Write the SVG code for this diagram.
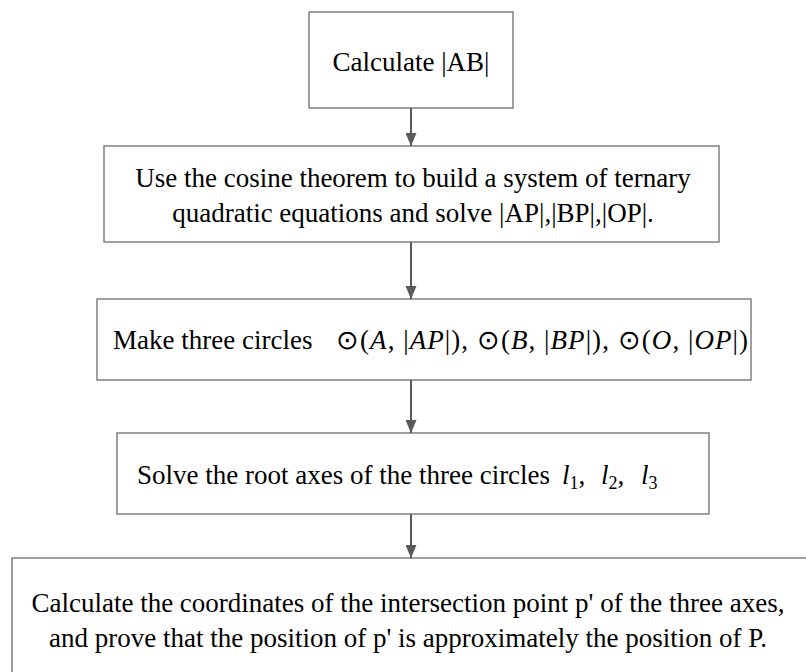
<svg xmlns="http://www.w3.org/2000/svg" width="806" height="672" viewBox="0 0 806 672">
  <style>
    .box { fill: #ffffff; stroke: #808080; stroke-width: 1.5; }
    .txt { font-family: "Liberation Serif", "Times New Roman", serif; font-size: 27px; fill: #000000; }
    .it { font-style: italic; }
    .sub { font-size: 18px; }
    .edge { stroke: #595959; stroke-width: 2; fill: none; marker-end: url(#arrow); }
  </style>
  <defs>
    <marker id="arrow" markerWidth="13" markerHeight="11" refX="13" refY="5.5" orient="auto" markerUnits="userSpaceOnUse" viewBox="0 0 13 11">
      <path d="M0,0 L13,5.5 L0,11 Z" fill="#595959"/>
    </marker>
  </defs>
  <rect width="806" height="672" fill="#ffffff"/>

  <g id="step1">
    <rect class="box" x="309" y="12" width="204" height="96"/>
    <text class="txt" x="411" y="71" text-anchor="middle">Calculate |AB|</text>
  </g>

  <g id="step2">
    <rect class="box" x="104" y="146" width="615" height="96"/>
    <text class="txt" x="413" y="187" text-anchor="middle">Use the cosine theorem to build a system of ternary</text>
    <text class="txt" x="413" y="222" text-anchor="middle">quadratic equations and solve |AP|,|BP|,|OP|.</text>
  </g>

  <g id="step3">
    <rect class="box" x="97" y="299" width="654" height="81"/>
    <text class="txt" x="113" y="349">Make three circles</text>
    <text class="txt" x="336" y="349" textLength="412" lengthAdjust="spacing">⊙(<tspan class="it">A</tspan>, |<tspan class="it">AP</tspan>|), ⊙(<tspan class="it">B</tspan>, |<tspan class="it">BP</tspan>|), ⊙(<tspan class="it">O</tspan>, |<tspan class="it">OP</tspan>|)</text>
  </g>

  <g id="step4">
    <rect class="box" x="117" y="433" width="592" height="81"/>
    <text class="txt" x="137" y="484">Solve the root axes of the three circles</text>
    <text class="txt" y="484"><tspan class="it" x="562">l</tspan><tspan class="sub" dy="5">1</tspan><tspan dy="-5">,</tspan><tspan class="it" x="601">l</tspan><tspan class="sub" dy="5">2</tspan><tspan dy="-5">,</tspan><tspan class="it" x="641">l</tspan><tspan class="sub" dy="5">3</tspan></text>
  </g>

  <g id="step5">
    <rect class="box" x="12" y="558" width="810" height="130"/>
    <text class="txt" x="408" y="612" text-anchor="middle">Calculate the coordinates of the intersection point p' of the three axes,</text>
    <text class="txt" x="408" y="647" text-anchor="middle">and prove that the position of p' is approximately the position of P.</text>
  </g>

  <g id="connectors">
    <line class="edge" x1="411" y1="108" x2="411" y2="146"/>
    <line class="edge" x1="411" y1="242" x2="411" y2="299"/>
    <line class="edge" x1="411" y1="380" x2="411" y2="433"/>
    <line class="edge" x1="411" y1="514" x2="411" y2="558"/>
  </g>
</svg>
